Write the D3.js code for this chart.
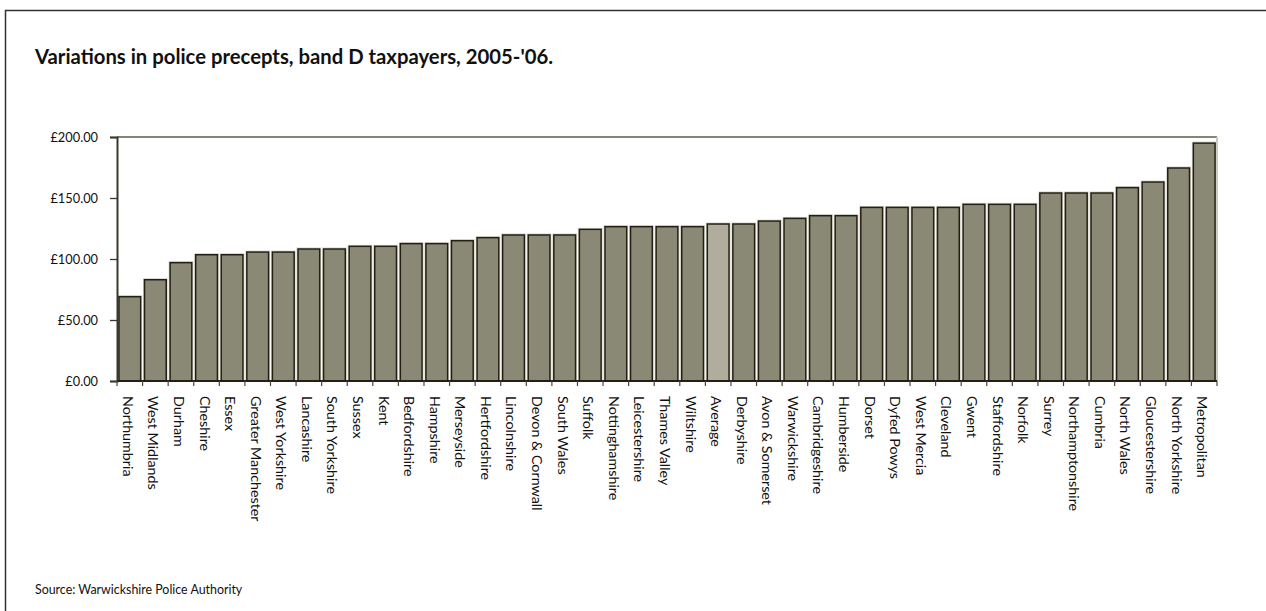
<!DOCTYPE html>
<html>
<head>
<meta charset="utf-8">
<script src="https://cdn.jsdelivr.net/npm/d3@7"></script>
<style>
    body { margin: 0; background: #fff; }
    text { font-family: "Gill Sans", Lato, sans-serif; fill: #111; }
</style>
</head>
<body>
<script>
//police forces, sorted by band D precept
var forces = ["Northumbria", "West Midlands", "Durham", "Cheshire", "Essex",
    "Greater Manchester", "West Yorkshire", "Lancashire", "South Yorkshire", "Sussex",
    "Kent", "Bedfordshire", "Hampshire", "Merseyside", "Hertfordshire",
    "Lincolnshire", "Devon & Cornwall", "South Wales", "Suffolk", "Nottinghamshire",
    "Leicestershire", "Thames Valley", "Wiltshire", "Average", "Derbyshire",
    "Avon & Somerset", "Warwickshire", "Cambridgeshire", "Humberside", "Dorset",
    "Dyfed Powys", "West Mercia", "Cleveland", "Gwent", "Staffordshire",
    "Norfolk", "Surrey", "Northamptonshire", "Cumbria", "North Wales",
    "Gloucestershire", "North Yorkshire", "Metropolitan"];

//precept in pounds
var precepts = [69.1, 83.0, 97.0, 103.5, 103.5,
    105.7, 105.7, 108.2, 108.2, 110.4,
    110.4, 112.6, 112.6, 115.0, 117.5,
    119.7, 119.7, 119.7, 124.3, 126.5,
    126.5, 126.5, 126.5, 128.7, 128.7,
    131.1, 133.3, 135.5, 135.5, 142.3,
    142.3, 142.3, 142.3, 144.8, 144.8,
    144.8, 154.1, 154.1, 154.1, 158.5,
    163.1, 174.6, 195.0];

//y axis ticks
var yTicks = [0, 50, 100, 150, 200];

var chartTitle = "Variations in police precepts, band D taxpayers, 2005-'06.";
var sourceNote = "Source: Warwickshire Police Authority";

drawChart();

function drawChart(){

    var width = 1266,
        height = 611;

    //plot area edges
    var pLeft = 117, pRight = 1217, pTop = 137, pBottom = 381;

    var svg = d3.select("body")
        .append("svg")
        .attr("width", width)
        .attr("height", height);

    //outer frame (runs off the right and bottom edges)
    svg.append("rect")
        .attr("x", 5.5)
        .attr("y", 10.5)
        .attr("width", 1400)
        .attr("height", 800)
        .style("fill", "none")
        .style("stroke", "#333")
        .style("stroke-width", "1.5px");

    svg.append("text")
        .attr("x", 35)
        .attr("y", 64)
        .style("font-size", "20.3px")
        .style("font-weight", "bold")
        .text(chartTitle);

    var x = d3.scaleBand()
        .domain(forces)
        .range([pLeft, pRight])
        .paddingInner(0.15)
        .paddingOuter(0.075);

    var y = d3.scaleLinear()
        .domain([0, 200])
        .range([pBottom, pTop]);

    //plot frame, top and right
    svg.append("line")
        .attr("x1", pLeft).attr("x2", pRight)
        .attr("y1", pTop).attr("y2", pTop)
        .style("stroke", "#858575")
        .style("stroke-width", "2px");
    svg.append("line")
        .attr("x1", pRight).attr("x2", pRight)
        .attr("y1", pTop).attr("y2", pBottom)
        .style("stroke", "#c9c9c0")
        .style("stroke-width", "2px");

    var data = forces.map(function(f, i){
        return {name: f, value: precepts[i]};
    });

    //light halo behind each bar
    svg.selectAll(".halo")
        .data(data)
        .enter()
        .append("rect")
        .attr("class", "halo")
        .attr("x", function(d){ return x(d.name) - 1; })
        .attr("y", function(d){ return y(d.value) - 1; })
        .attr("width", x.bandwidth() + 2)
        .attr("height", function(d){ return pBottom - y(d.value) + 1; })
        .style("fill", "none")
        .style("stroke", "#d6d6cc")
        .style("stroke-width", "1px");

    svg.selectAll(".bar")
        .data(data)
        .enter()
        .append("rect")
        .attr("class", "bar")
        .attr("x", function(d){ return x(d.name); })
        .attr("y", function(d){ return y(d.value); })
        .attr("width", x.bandwidth())
        .attr("height", function(d){ return pBottom - y(d.value); })
        .style("fill", function(d){ return d.name == "Average" ? "#b0ad9d" : "#8a8975"; })
        .style("stroke", "#241f12")
        .style("stroke-width", "1.5px");

    //y axis
    var yAxis = d3.axisLeft(y)
        .tickValues(yTicks)
        .tickSize(7)
        .tickPadding(12)
        .tickFormat(function(d){ return "£" + d.toFixed(2); });

    var yg = svg.append("g")
        .attr("transform", "translate(" + pLeft + ",0)")
        .call(yAxis);
    yg.select(".domain").style("stroke", "#3a362a").style("stroke-width", "2px");
    yg.selectAll(".tick line").style("stroke", "#3a362a").style("stroke-width", "1.3px");
    yg.selectAll(".tick text")
        .style("font-size", "12.8px")
        .style("font-family", "\"Gill Sans\", Lato, sans-serif")
        .style("fill", "#111");

    //x axis: ticks between bars, labels rotated down
    var step = x.step();
    var xg = svg.append("g");
    xg.append("line")
        .attr("x1", pLeft).attr("x2", pRight)
        .attr("y1", pBottom).attr("y2", pBottom)
        .style("stroke", "#241f12")
        .style("stroke-width", "2px");

    var boundaries = forces.map(function(f){ return x(f) - step * x.paddingInner() / 2; });
    boundaries.push(pRight);
    xg.selectAll(".xtick")
        .data(boundaries)
        .enter()
        .append("line")
        .attr("class", "xtick")
        .attr("x1", function(d){ return d; })
        .attr("x2", function(d){ return d; })
        .attr("y1", pBottom)
        .attr("y2", pBottom + 5)
        .style("stroke", "#4a4638")
        .style("stroke-width", "1.2px");

    xg.selectAll(".xlabel")
        .data(forces)
        .enter()
        .append("text")
        .attr("class", "xlabel")
        .attr("transform", function(d){
            return "translate(" + (x(d) + x.bandwidth() / 2 - 2) + "," + (pBottom + 15) + ") rotate(90)";
        })
        .attr("dy", "0.35em")
        .style("font-size", "14.3px")
        .text(function(d){ return d; });

    svg.append("text")
        .attr("x", 35)
        .attr("y", 594)
        .style("font-size", "12.4px")
        .text(sourceNote);
}
</script>
</body>
</html>
